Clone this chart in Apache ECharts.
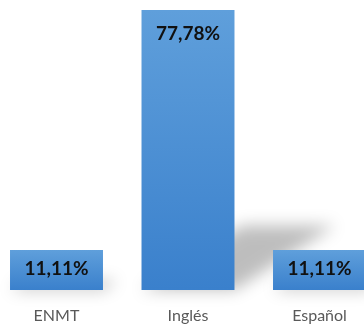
<!DOCTYPE html>
<html>
<head>
<meta charset="utf-8">
<script src="https://cdn.jsdelivr.net/npm/echarts@6/dist/echarts.min.js"></script>
<style>
  html, body { margin: 0; padding: 0; background: #ffffff; }
  #chart { width: 364px; height: 326px; }
</style>
</head>
<body>
<div id="chart"></div>
<script>
// Share of responses by language option (%)
var categories = ['ENMT', 'Inglés', 'Español'];
var values = [11.11, 77.78, 11.11];

var BAR_RATIO = 93 / 131.5;

function pct(v) {
  return v.toFixed(2).replace('.', ',') + '%';
}

// Perspective floor shadow cast by each bar (drawn off-canvas, only its blurred shadow shows)
function renderShadow(params, api) {
  var idx = api.value(0);
  var val = api.value(1);
  var base = api.coord([idx, 0]);
  var top = api.coord([idx, val]);
  var half = api.size([1, 0])[0] * BAR_RATIO / 2;
  var h = base[1] - top[1];
  var dx = h * 0.36, dy = h * 0.23;
  var xl = base[0] - half, xr = base[0] + half, y0 = base[1];
  var shift = 3000;
  var pts = [
    [xl - shift, y0],
    [xr - shift, y0],
    [xr + dx - shift, y0 - dy],
    [xl + dx - shift, y0 - dy]
  ];
  return {
    type: 'polygon',
    shape: { points: pts },
    style: {
      fill: '#000',
      shadowBlur: 16,
      shadowColor: 'rgba(0,0,0,0.26)',
      shadowOffsetX: shift,
      shadowOffsetY: 0
    },
    silent: true
  };
}

var chart = echarts.init(document.getElementById('chart'), null, { renderer: 'canvas' });

chart.setOption({
  animation: false,
  backgroundColor: '#ffffff',
  grid: {
    left: -9.25, right: -21.25, top: 2, bottom: 36,
    containLabel: false,
    outerBoundsMode: 'none'
  },
  xAxis: {
    type: 'category',
    data: categories,
    axisLine: { show: false },
    axisTick: { show: false },
    axisLabel: {
      color: '#595959',
      fontFamily: 'Lato',
      fontSize: 16,
      margin: 18
    }
  },
  yAxis: {
    type: 'value',
    min: 0,
    max: 80,
    show: false,
    splitLine: { show: false }
  },
  series: [
    {
      type: 'custom',
      renderItem: renderShadow,
      data: values.map(function (v, i) { return [i, v]; }),
      z: 1,
      clip: false
    },
    {
      type: 'bar',
      barWidth: '70.7%',
      z: 2,
      data: values.map(function (v) {
        return {
          value: v,
          label: v > 40
            ? { position: 'insideTop', distance: 14 }
            : { position: 'inside', offset: [0, -1] }
        };
      }),
      itemStyle: {
        color: new echarts.graphic.LinearGradient(0, 0, 0, 1, [
          { offset: 0, color: '#5f9fdb' },
          { offset: 1, color: '#3a80cc' }
        ])
      },
      label: {
        show: true,
        formatter: function (p) { return pct(p.value); },
        color: '#111111',
        fontFamily: 'Lato',
        fontWeight: 'bold',
        fontSize: 19
      }
    }
  ]
});
</script>
</body>
</html>
